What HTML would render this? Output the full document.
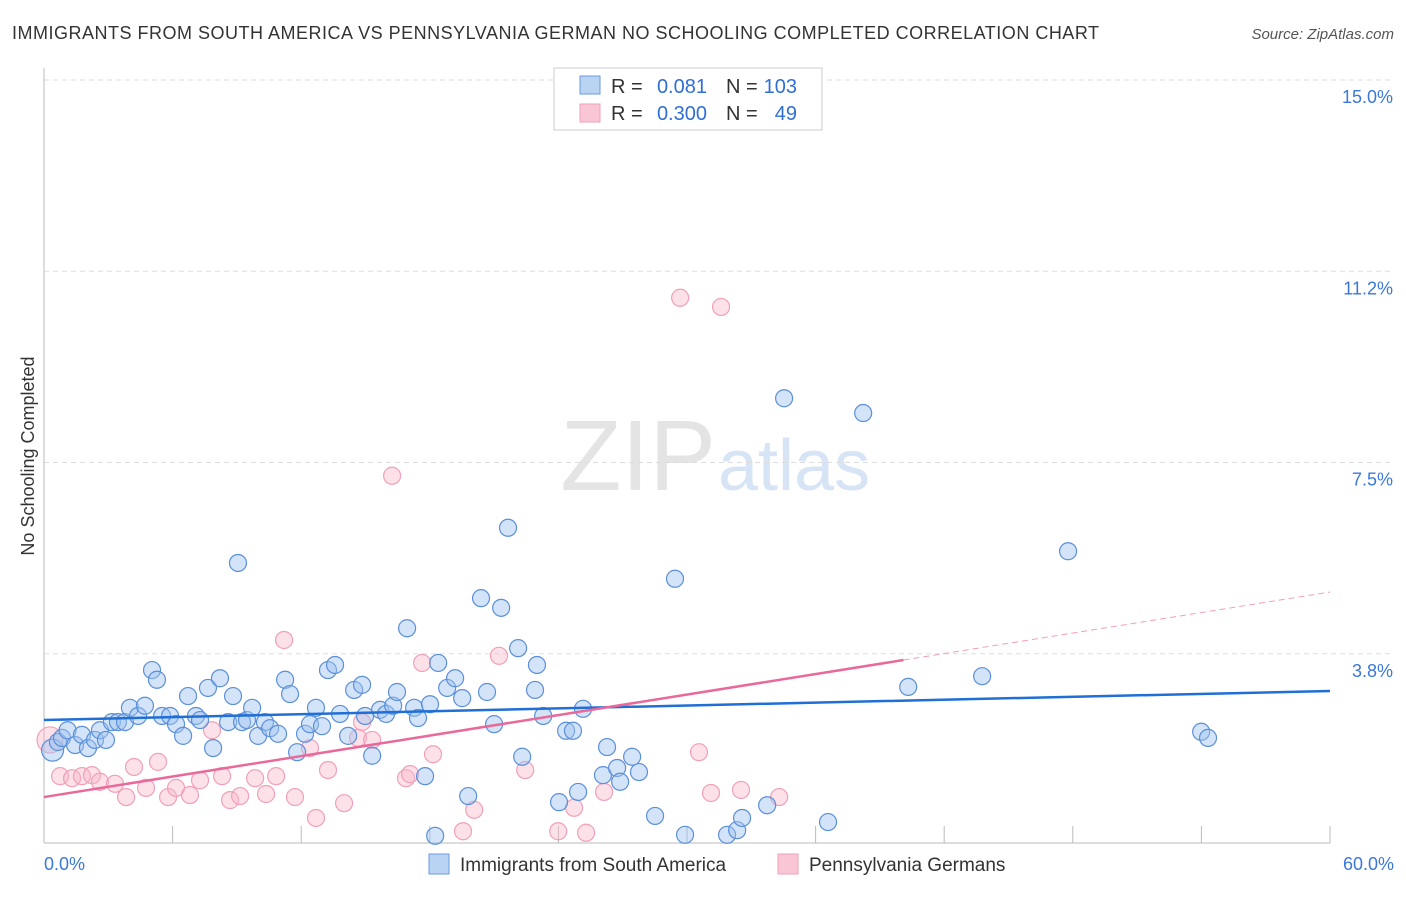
<!DOCTYPE html>
<html><head><meta charset="utf-8"><style>
body{margin:0;background:#fff;font-family:"Liberation Sans",sans-serif}
svg text{font-family:"Liberation Sans",sans-serif}
</style></head><body>
<svg id="c" width="1406" height="892" xmlns="http://www.w3.org/2000/svg">
<text x="12" y="39" font-size="18" fill="#333" textLength="1087" lengthAdjust="spacing">IMMIGRANTS FROM SOUTH AMERICA VS PENNSYLVANIA GERMAN NO SCHOOLING COMPLETED CORRELATION CHART</text>
<text x="1394" y="39" font-size="15" fill="#555" font-style="italic" text-anchor="end">Source: ZipAtlas.com</text>
<text x="716" y="490" font-size="100" fill="#e4e4e4" text-anchor="end" font-family="Liberation Serif">ZIP</text>
<text x="718" y="490" font-size="72" fill="#d6e4f5">atlas</text>
<text x="34" y="456" font-size="18" fill="#333" text-anchor="middle" transform="rotate(-90 34 456)">No Schooling Completed</text>
<g id="grid"></g><g id="pts"></g><g id="trend"></g>
<g>
<rect x="554" y="68" width="268" height="62" fill="#fff" stroke="#ccc"/>
<rect x="580" y="76" width="20" height="18" fill="#b9d3f3" stroke="#6a9be0"/>
<rect x="580" y="104" width="20" height="18" fill="#f9c6d5" stroke="#f0a0b8"/>
<text x="611" y="93" font-size="20" fill="#333">R =</text>
<text x="707" y="93" font-size="20" fill="#2f6fd6" text-anchor="end">0.081</text>
<text x="726" y="93" font-size="20" fill="#333">N =</text>
<text x="797" y="93" font-size="20" fill="#2f6fd6" text-anchor="end">103</text>
<text x="611" y="120" font-size="20" fill="#333">R =</text>
<text x="707" y="120" font-size="20" fill="#2f6fd6" text-anchor="end">0.300</text>
<text x="726" y="120" font-size="20" fill="#333">N =</text>
<text x="797" y="120" font-size="20" fill="#2f6fd6" text-anchor="end">49</text>
</g>
<g>
<rect x="429" y="854" width="20" height="20" fill="#b9d3f3" stroke="#6a9be0"/>
<text x="460" y="871" font-size="19" fill="#333">Immigrants from South America</text>
<rect x="778" y="854" width="20" height="20" fill="#f9c6d5" stroke="#f0a0b8"/>
<text x="809" y="871" font-size="19" fill="#333">Pennsylvania Germans</text>
</g>
</svg>
<script>
const yTicks=[3.75,7.5,11.25,15];
const yTickLabels=["3.8%","7.5%","11.2%","15.0%"];
const xTickLabels=["0.0%","60.0%"];
const blueX=[0.4,0.65,0.84,1.1,1.45,1.77,2.05,2.38,2.61,2.89,3.17,3.45,3.78,4.01,4.39,4.71,5.04,5.27,5.51,5.88,6.16,6.49,6.72,7.09,7.28,7.65,7.89,8.21,8.59,8.82,9.05,9.24,9.47,9.71,9.99,10.31,10.55,10.92,11.25,11.48,11.81,12.18,12.41,12.69,12.97,13.25,13.58,13.81,14.19,14.47,14.84,14.98,15.31,15.68,15.96,16.29,16.47,16.94,17.27,17.45,17.78,18.01,18.39,18.81,19.18,19.51,19.79,20.39,20.67,21.0,21.33,21.65,22.12,22.31,22.91,23.0,23.29,24.03,24.36,24.68,24.92,25.15,26.08,26.27,26.74,26.88,27.44,27.76,28.51,29.44,29.91,31.87,32.34,32.57,33.74,34.53,36.58,38.22,40.32,43.77,47.78,53.99,54.31,18.25];
const blueY=[1.86,2.02,2.10,2.25,1.96,2.16,1.90,2.06,2.25,2.06,2.41,2.41,2.41,2.69,2.53,2.73,3.43,3.24,2.53,2.53,2.37,2.14,2.92,2.53,2.45,3.08,1.90,3.27,2.41,2.92,5.53,2.41,2.45,2.69,2.14,2.41,2.29,2.18,3.24,2.96,1.82,2.18,2.37,2.69,2.33,3.43,3.53,2.57,2.14,3.04,3.14,2.53,1.75,2.65,2.57,2.73,3.00,4.25,2.69,2.49,1.35,2.76,3.57,3.08,3.27,2.88,0.96,4.84,3.00,2.37,4.65,6.22,3.86,1.73,3.04,3.53,2.53,0.84,2.24,2.24,1.04,2.67,1.37,1.92,1.51,1.24,1.73,1.43,0.57,5.22,0.20,0.20,0.29,0.53,0.78,8.76,0.45,8.47,3.10,3.31,5.76,2.22,2.10,0.18];
const pinkX=[0.28,0.75,1.31,1.77,2.24,2.61,3.31,3.83,4.2,4.76,5.32,5.79,6.16,6.81,7.28,7.84,8.31,8.68,9.15,9.85,10.36,10.83,11.2,11.71,12.41,12.69,13.25,14.0,14.65,14.84,15.31,16.24,16.89,17.08,17.64,18.15,19.55,20.07,21.23,22.45,23.99,24.73,25.29,26.13,29.68,30.56,31.12,31.59,32.52,34.3];
const pinkY=[2.06,1.35,1.31,1.35,1.37,1.24,1.20,0.94,1.53,1.12,1.63,0.94,1.12,0.98,1.27,2.25,1.35,0.88,0.96,1.31,1.0,1.35,4.02,0.94,1.90,0.53,1.47,0.82,2.10,2.41,2.06,7.24,1.31,1.39,3.57,1.78,0.27,0.69,3.71,1.47,0.27,0.73,0.24,1.04,10.73,1.82,1.02,10.55,1.08,0.94];
const blueTrend=[2.45,3.02];
const pinkTrend=[0.94,4.96];
const pinkSolidEnd=40.1;
const NS="http://www.w3.org/2000/svg";
const X=v=>44+v/60*1286, Y=v=>845-v/15*765;
function mk(t,a,p){const e=document.createElementNS(NS,t);for(const k in a)e.setAttribute(k,a[k]);p.appendChild(e);return e;}
const grid=document.getElementById('grid');
yTicks.forEach((t,i)=>{
 const l=mk('line',{x1:44,x2:1394,y1:Y(t),y2:Y(t),stroke:'#ddd','stroke-dasharray':'5,4'},grid);
 
 
 const tx=mk('text',{x:1393,y:Y(t)+23,'font-size':18,fill:'#3b78d8','text-anchor':'end'},grid);
 tx.textContent=yTickLabels[i];
 
 
});
mk('line',{x1:44,x2:44,y1:68,y2:843,stroke:'#bbb'},grid);
mk('line',{x1:44,x2:1330,y1:843,y2:843,stroke:'#bbb'},grid);
for(let i=1;i<=10;i++){const v=i*6;mk('line',{x1:X(v),x2:X(v),y1:826,y2:843,stroke:'#bbb'},grid);}
[[0,'start',44],[60,'end',1394]].forEach((d,i)=>{
 const t=mk('text',{x:d[2],y:870,'font-size':18,fill:'#3b78d8','text-anchor':d[1]},grid);
 t.textContent=xTickLabels[i];
 
 
});
const pts=document.getElementById('pts');
pinkX.forEach((x,i)=>{
 const c=mk('circle',{cx:X(x),cy:Y(pinkY[i]),r:i==0?13:8.5,fill:'rgba(248,180,200,0.4)',stroke:'#f0a0b8','stroke-width':1.2},pts);
 
 
});
blueX.forEach((x,i)=>{
 const c=mk('circle',{cx:X(x),cy:Y(blueY[i]),r:i==0?11:8.5,fill:'rgba(160,195,240,0.45)',stroke:'#5b8fd9','stroke-width':1.2},pts);
 
 
});
const tr=document.getElementById('trend');
const pY=v=>pinkTrend[0]+(pinkTrend[1]-pinkTrend[0])*v/60;
let a=mk('line',{x1:X(0),y1:Y(blueTrend[0]),x2:X(60),y2:Y(blueTrend[1]),stroke:'#1f6fd6','stroke-width':2.5},tr);


a=mk('line',{x1:X(0),y1:Y(pY(0)),x2:X(pinkSolidEnd),y2:Y(pY(pinkSolidEnd)),stroke:'#e8699a','stroke-width':2.5},tr);


a=mk('line',{x1:X(pinkSolidEnd),y1:Y(pY(pinkSolidEnd)),x2:X(60),y2:Y(pY(60)),stroke:'#f0a0b8','stroke-width':1,'stroke-dasharray':'6,4'},tr);


</script>
</body></html>
